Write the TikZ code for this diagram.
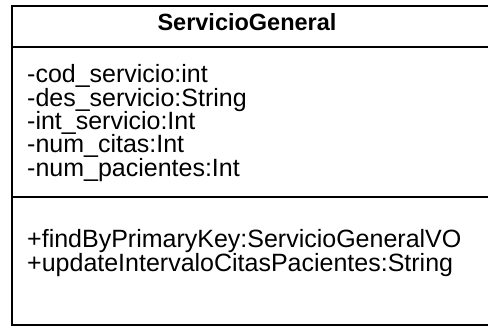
\documentclass[tikz,border=0pt]{standalone}
\usepackage{fontspec}
\setmainfont{Liberation Sans}
\begin{document}
\begin{tikzpicture}[x=1pt, y=-1pt, every node/.style={anchor=base west, inner sep=0pt, font=\fontsize{25}{25}\selectfont}]
\useasboundingbox (0,0) rectangle (488,328);
\clip (0,0) rectangle (488,328);
% class box
\draw[line width=1.6pt] (12,6) rectangle (500,325);
\draw[line width=1.6pt] (12,47) -- (500,47);
\draw[line width=1.2pt] (12,197) -- (500,197);
\node[anchor=base, font=\fontsize{23.5}{23.5}\selectfont\bfseries] (name) at (247,31) {ServicioGeneral};
% attributes
\node (cod) at (27,83) {-cod\_servicio:int};
\node (des) at (27,106.3) {-des\_servicio:String};
\node (int) at (27,129.6) {-int\_servicio:Int};
\node (citas) at (27,153) {-num\_citas:Int};
\node (pac) at (27,176.3) {-num\_pacientes:Int};
% operations
\node (find) at (27,248) {+findByPrimaryKey:ServicioGeneralVO};
\node (upd) at (27,271.3) {+updateIntervaloCitasPacientes:String};
\end{tikzpicture}
\end{document}
